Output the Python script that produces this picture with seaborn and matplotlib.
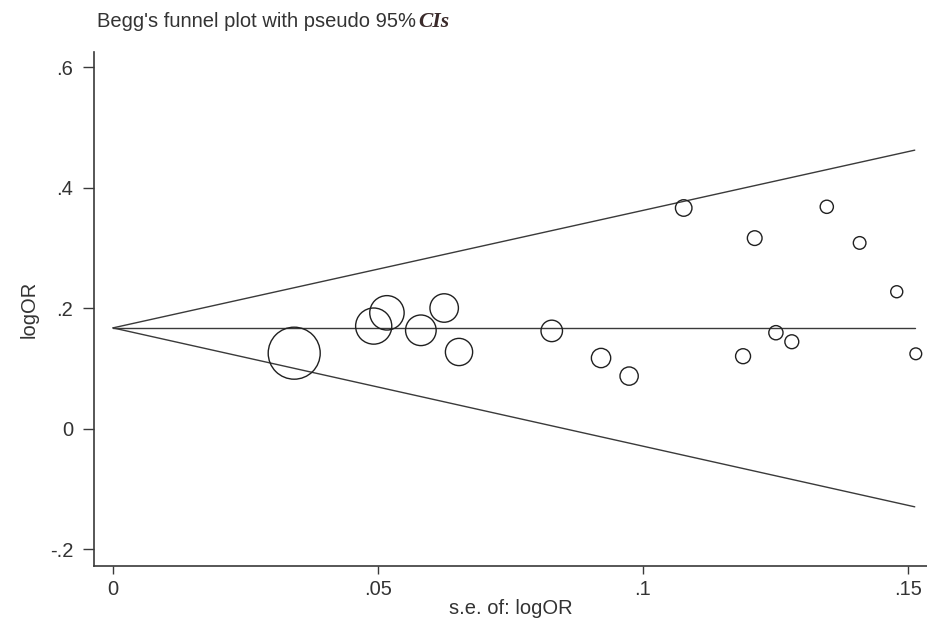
import matplotlib
matplotlib.use("Agg")
import matplotlib.pyplot as plt
import seaborn as sns
import pandas as pd
import numpy as np

sns.set_theme(style="white")
plt.rcParams['font.family'] = ['Liberation Sans', 'DejaVu Sans']

# standard errors and log odds ratios of the studies
se = [0.0342, 0.0492, 0.0517, 0.0581, 0.0625, 0.0653, 0.0828, 0.0921, 0.0974,
      0.1077, 0.1189, 0.1211, 0.1251, 0.1281, 0.1347, 0.1409, 0.1479, 0.1515]
log_or = [0.125, 0.170, 0.192, 0.163, 0.200, 0.127, 0.162, 0.117, 0.087,
          0.366, 0.120, 0.316, 0.159, 0.144, 0.368, 0.308, 0.227, 0.124]

# pooled estimate and pseudo 95% CI lines (end points)
ci_se = [0.0, 0.1513]
ci_mid = [0.167, 0.167]
ci_upper = [0.167, 0.462]
ci_lower = [0.167, -0.130]

x_ticks = [0, 0.05, 0.1, 0.15]
x_labels = ["0", ".05", ".1", ".15"]
y_ticks = [-0.2, 0, 0.2, 0.4, 0.6]
y_labels = ["-.2", "0", ".2", ".4", ".6"]

df = pd.DataFrame({"se": se, "logOR": log_or})
df["weight"] = 1 / df["se"] ** 2
wmax = df["weight"].max()

fig = plt.figure(figsize=(9.28, 6.2), dpi=100)
ax = fig.add_axes([94 / 928, 1 - 566 / 620, 1 - 94 / 928, (566 - 52) / 620])

line_col = "#3a3a3a"
lines = pd.DataFrame({"se": ci_se, "mid": ci_mid, "up": ci_upper, "lo": ci_lower})
for col in ["mid", "up", "lo"]:
    sns.lineplot(data=lines, x="se", y=col, ax=ax, color=line_col, linewidth=1.0)

sns.scatterplot(data=df, x="se", y="logOR", size="weight", sizes=(0, 1.64 * wmax),
                size_norm=(0, wmax), legend=False, ax=ax, marker="o",
                facecolor="none", edgecolor="#202020", linewidth=1.0, zorder=3)

ax.set_xlim(-0.00358, 0.1538)
ax.set_ylim(-0.2282, 0.6249)
ax.set_xticks(x_ticks)
ax.set_xticklabels(x_labels)
ax.set_yticks(y_ticks)
ax.set_yticklabels(y_labels)

for s in ["top", "right"]:
    ax.spines[s].set_visible(False)
for s in ["left", "bottom"]:
    ax.spines[s].set_color(line_col)
    ax.spines[s].set_linewidth(1.2)

ax.tick_params(axis="y", direction="out", length=8, width=1, color=line_col,
               labelsize=14.5, pad=7, left=True)
ax.tick_params(axis="x", direction="out", length=6, width=1, color=line_col,
               labelsize=14.5, pad=4, bottom=True)
for lab in ax.get_xticklabels() + ax.get_yticklabels():
    lab.set_color("#333333")

ax.set_xlabel("s.e. of: logOR", fontsize=14.5, color="#333333", labelpad=0)
ax.set_ylabel("logOR", fontsize=14.5, color="#333333", labelpad=8)

# title with the italic "CIs" part
t1 = fig.text(97 / 928, 1 - 27 / 620, "Begg's funnel plot with pseudo 95%",
              fontsize=14.5, color="#333333", va="baseline", ha="left")
fig.canvas.draw()
bb = t1.get_window_extent()
fig.text((bb.x1 + 2) / 928, 1 - 27 / 620, "CIs", fontsize=15.5,
         family=["Liberation Serif", "DejaVu Serif"], style="italic",
         weight="bold", color="#3a2a2a", va="baseline", ha="left")

fig.savefig("out.png", dpi=100)
